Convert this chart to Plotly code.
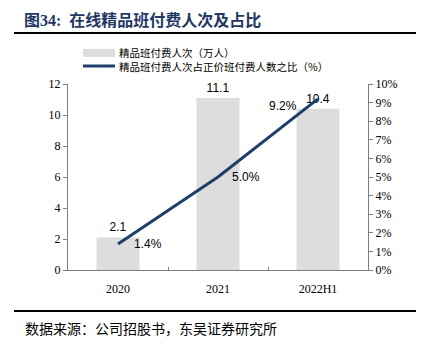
import plotly.graph_objects as go

categories = ["2020", "2021", "2022H1"]
paid_visits = [2.1, 11.1, 10.4]          # 万人
share_pct = [1.4, 5.0, 9.2]              # %
bar_labels = ["2.1", "11.1", "10.4"]
line_labels = ["1.4%", "5.0%", "9.2%"]
left_ticks = [0, 2, 4, 6, 8, 10, 12]
right_ticks = [0, 1, 2, 3, 4, 5, 6, 7, 8, 9, 10]
bar_name = "精品班付费人次（万人）"
line_name = "精品班付费人次占正价班付费人数之比（%）"

W, H = 422, 347
L, R, T, B = 68, 54, 84, 77
PW, PH = W - L - R, H - T - B

def px_x(p):
    return (p - L) / PW

def px_y(p):
    return (H - B - p) / PH

serif = "Liberation Serif, Times New Roman, serif"
cjk = "Noto Sans CJK SC, sans-serif"
sans = "Liberation Sans, Arial, sans-serif"
axis_col = "#7f7f7f"
bar_col = "#dddddd"
line_col = "#1f3f6b"

fig = go.Figure()
fig.add_trace(go.Bar(
    x=categories, y=paid_visits, name=bar_name,
    marker=dict(color=bar_col, line=dict(width=0)), width=0.43,
    text=bar_labels, textposition="outside", cliponaxis=False,
    textfont=dict(family=sans, size=12, color="#000000"),
))
fig.add_trace(go.Scatter(
    x=categories, y=share_pct, yaxis="y2", mode="lines",
    name=line_name, line=dict(color=line_col, width=3),
))

# line data labels (offsets are styling); x given as category index
label_style = [
    dict(xanchor="left", xshift=14, yshift=0),
    dict(xanchor="left", xshift=12, yshift=0),
    dict(xanchor="right", xshift=-19, yshift=-7),
]
for i, (val, lab, st) in enumerate(zip(share_pct, line_labels, label_style)):
    fig.add_annotation(x=i, y=val, xref="x", yref="y2", text=lab, showarrow=False,
                       yanchor="middle", font=dict(family=sans, size=12, color="#000000"),
                       **st)

fig.update_layout(
    width=W, height=H, margin=dict(l=L, r=R, t=T, b=B),
    paper_bgcolor="white", plot_bgcolor="white",
    showlegend=False,
    xaxis=dict(type="category", showline=True, linecolor=axis_col, linewidth=1,
               ticks="inside", tickson="boundaries", ticklen=3, tickcolor=axis_col,
               tickfont=dict(family=serif, size=12, color="#000000"),
               ticklabelstandoff=8,
               showgrid=False, range=[-0.5, 2.5]),
    yaxis=dict(range=[0, 12], tickvals=left_ticks, showline=True, linecolor=axis_col,
               ticks="outside", ticklen=4, tickcolor=axis_col, showgrid=False,
               zeroline=False,
               tickfont=dict(family=serif, size=12, color="#000000")),
    yaxis2=dict(range=[0, 10], tickvals=right_ticks,
                ticktext=[f"{v}%" for v in right_ticks],
                overlaying="y", side="right", showline=True, linecolor=axis_col,
                ticks="outside", ticklen=4, tickcolor=axis_col, showgrid=False,
                zeroline=False,
                tickfont=dict(family=serif, size=12, color="#000000")),
)

# manual legend
fig.add_shape(type="rect", xref="paper", yref="paper",
              x0=px_x(83), x1=px_x(115), y0=px_y(49), y1=px_y(57),
              fillcolor=bar_col, line=dict(width=0))
fig.add_shape(type="line", xref="paper", yref="paper",
              x0=px_x(83), x1=px_x(115), y0=px_y(66), y1=px_y(66),
              line=dict(color=line_col, width=3))
fig.add_annotation(xref="paper", yref="paper", x=px_x(117), y=px_y(53),
                   xanchor="left", yanchor="middle", showarrow=False, text=bar_name,
                   font=dict(family=cjk, size=10.5, color="#000000"))
fig.add_annotation(xref="paper", yref="paper", x=px_x(117), y=px_y(66),
                   xanchor="left", yanchor="middle", showarrow=False, text=line_name,
                   font=dict(family=cjk, size=10.5, color="#000000"))

fig.add_annotation(xref="paper", yref="paper", x=px_x(22), y=px_y(20),
                   xanchor="left", yanchor="middle", showarrow=False,
                   text="<b>图34:  在线精品班付费人次及占比</b>",
                   font=dict(family="Liberation Serif, Noto Sans CJK SC", size=16, color="#1f3864"))
fig.add_annotation(xref="paper", yref="paper", x=px_x(23), y=px_y(328),
                   xanchor="left", yanchor="middle", showarrow=False,
                   text="数据来源：公司招股书，东吴证券研究所",
                   font=dict(family=cjk, size=14, color="#000000"))
fig.add_shape(type="line", xref="paper", yref="paper",
              x0=px_x(14), x1=px_x(416), y0=px_y(33), y1=px_y(33),
              line=dict(color="#000000", width=2))
fig.add_shape(type="line", xref="paper", yref="paper",
              x0=px_x(14), x1=px_x(416), y0=px_y(311), y1=px_y(311),
              line=dict(color="#000000", width=2))

fig.write_html("out.html")
